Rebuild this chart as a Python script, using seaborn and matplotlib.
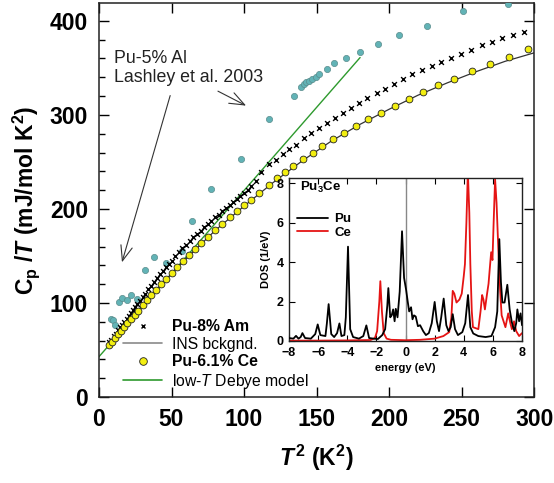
import numpy as np
import pandas as pd
import seaborn as sns
import matplotlib.pyplot as plt
from matplotlib.lines import Line2D
from matplotlib.ticker import MultipleLocator

# Pu-5% Al, Lashley et al. 2003
al_t2 = [8, 9.5, 11, 13.5, 16, 19, 22, 26, 31.5, 38, 46, 57, 64, 77, 97.6, 117, 134.7,
         139, 141.3, 143, 144.7, 146.6, 149.3, 152, 157, 162, 170, 180, 192.5, 207, 226, 251, 282]
al_cp = [83, 82, 77, 101, 105, 103, 108, 104, 135, 149, 142, 155, 187, 221, 253, 296, 320,
         330, 333, 335, 336, 338, 340, 344, 349, 355, 360, 367, 375, 385, 395, 410, 418]

# Pu-8% Am
am_t2 = [7, 8.5, 10, 11.5, 13, 14.5, 16, 17.5, 19, 20.5, 22, 23.5, 25, 26.5, 28, 30, 32, 34, 36, 38,
         40, 42, 44, 46, 48, 50, 52.5, 55, 57.5, 60, 62.5, 65, 67.5, 70, 72.5, 75, 77.5, 80, 82.5, 85,
         87.5, 90, 92.5, 95, 97.5, 100, 102.5, 105, 108, 112,
         117, 121.7, 126.6, 131, 136, 141, 146, 151.6, 157, 162.4, 168, 173.7, 179.4, 185, 191.4,
         197, 203.3, 209.5, 216, 222.4, 229.3, 236, 243, 249.8, 256.7, 263.8, 270.7, 278, 285.4, 293]
am_cp = [58, 61, 64.5, 67.5, 71, 74, 77, 80, 83, 86, 89.5, 92.5, 96, 99, 102, 106, 110, 114.5, 118.5, 122.5,
         126.5, 130.5, 134, 138, 141.5, 145, 149.5, 154, 158, 162, 166, 170, 173.5, 177, 180.5, 184, 187.5, 191, 194, 197.5,
         200.5, 204, 207, 210.5, 213.5, 217, 220, 224, 230, 239,
         248, 252.5, 258, 263.5, 268.5, 275, 281, 286.5, 291.5, 297, 302, 307, 312.5, 318, 323,
         328, 333, 338, 343.5, 348, 352, 356.5, 360.5, 364.5, 369, 374, 377.5, 381.5, 384.5, 388]

# Pu-6.1% Ce
ce_t2 = [7, 9, 11, 13, 15, 17, 19.5, 22, 24.5, 27, 30, 33, 36, 39.5, 43, 46.5, 50, 54, 58, 62, 66,
         70.5, 75, 80, 85, 90, 95, 100, 105, 110.5, 117, 122.4, 128, 134, 140.3, 147.2, 154, 161.2,
         169, 177, 185.4, 194.3, 203.8, 213.4, 223.3, 234, 245, 257.4, 269.5, 282.4, 296]
ce_cp = [55, 59, 63, 66.5, 70, 74, 78.5, 83, 87.5, 92, 97.5, 103, 108, 114, 120, 126, 132, 138.5, 145, 151, 157,
         164, 170.5, 177.5, 184, 191, 197.5, 204, 210, 217, 225.5, 233, 239, 246, 253, 260, 267, 274,
         281, 288.5, 295.5, 302.5, 309.5, 317, 324.5, 331.5, 338.5, 346.5, 354, 362, 370]

# INS background
ins_t2 = [7, 20, 40, 60, 80, 100, 120, 140, 160, 180, 200, 220, 240, 260, 280, 300]
ins_cp = [55, 80, 115, 147, 177, 203, 228, 251, 272, 290, 306, 321, 334, 346, 357, 366]

# low-T Debye model
deb_t2 = [0, 180]
deb_cp = [42.9, 361]

# inset: Pu3Ce density of states (energy eV, DOS 1/eV)
pu_dos = [(-8.0, 0.15), (-7.7, 0.12), (-7.52, 0.26), (-7.35, 0.12), (-7.2, 0.2), (-7.08, 0.4),
          (-6.9, 0.15), (-6.5, 0.12), (-6.2, 0.35), (-6.03, 0.84), (-5.85, 0.3), (-5.5, 0.25),
          (-5.4, 0.9), (-5.28, 1.87), (-5.1, 0.35), (-4.9, 0.2), (-4.7, 0.4), (-4.54, 0.89),
          (-4.4, 0.25), (-4.2, 0.3), (-4.1, 1.2), (-3.95, 4.78), (-3.8, 0.6), (-3.6, 0.2),
          (-3.2, 0.12), (-2.9, 0.25), (-2.69, 0.79), (-2.5, 0.15), (-2.2, 0.12), (-1.9, 0.1),
          (-1.6, 0.3), (-1.4, 0.6), (-1.25, 1.8), (-1.18, 2.68), (-1.05, 1.2), (-0.95, 1.3),
          (-0.85, 1.6), (-0.75, 1.0), (-0.67, 1.63), (-0.55, 1.2), (-0.4, 2.5), (-0.24, 5.56),
          (-0.1, 3.2), (0.04, 2.59), (0.15, 2.0), (0.25, 1.5), (0.38, 1.71), (0.48, 1.1),
          (0.58, 1.3), (0.7, 1.24), (0.85, 0.75), (1.0, 0.8), (1.22, 0.49), (1.4, 0.3),
          (1.6, 0.4), (1.8, 0.9), (2.0, 1.98), (2.15, 1.0), (2.3, 0.5), (2.45, 1.2),
          (2.62, 2.15), (2.8, 0.8), (2.95, 0.5), (3.1, 0.7), (3.24, 1.36), (3.4, 0.6),
          (3.6, 0.3), (3.9, 0.45), (4.1, 0.9), (4.29, 2.33), (4.45, 0.7), (4.65, 0.38),
          (5.0, 0.25), (5.5, 0.2), (5.9, 0.25), (6.15, 0.7), (6.3, 1.5), (6.44, 5.16),
          (6.55, 3.0), (6.65, 1.95), (6.8, 1.95), (6.99, 2.85), (7.15, 1.6), (7.3, 0.95),
          (7.47, 0.5), (7.6, 0.9), (7.68, 1.6), (7.8, 1.0), (7.9, 1.4), (8.0, 0.8)]
ce_dos = [(-8, 0.02), (-6, 0.02), (-4, 0.03), (-2.4, 0.05), (-2.1, 0.15), (-1.95, 0.5),
          (-1.8, 2.0), (-1.73, 3.03), (-1.62, 1.5), (-1.5, 0.4), (-1.3, 0.12), (-1.0, 0.06),
          (0, 0.04), (1.0, 0.06), (2.0, 0.12), (2.6, 0.25), (3.0, 0.45), (3.15, 1.2),
          (3.24, 2.54), (3.35, 2.4), (3.5, 1.95), (3.7, 2.1), (3.86, 2.4), (4.0, 3.3),
          (4.08, 3.9), (4.18, 6.0), (4.28, 8.6), (4.38, 6.5), (4.45, 3.9), (4.55, 1.5),
          (4.63, 0.7), (5.0, 0.6), (5.15, 1.5), (5.26, 2.33), (5.35, 2.1), (5.45, 1.6),
          (5.6, 2.4), (5.7, 2.9), (5.8, 3.8), (5.88, 4.5), (5.97, 4.1), (6.05, 6.0),
          (6.15, 8.2), (6.25, 7.0), (6.37, 4.7), (6.5, 2.5), (6.6, 1.3), (6.86, 0.7),
          (7.05, 1.4), (7.2, 0.9), (7.3, 0.6), (7.45, 1.0), (7.6, 0.5), (7.8, 0.25), (8.0, 0.4)]

sns.set_theme(style="ticks")
plt.rcParams['font.family'] = ['Liberation Sans', 'DejaVu Sans']
plt.rcParams['mathtext.fontset'] = 'custom'
plt.rcParams['mathtext.rm'] = 'Liberation Sans:bold'
plt.rcParams['mathtext.it'] = 'Liberation Sans:italic'
plt.rcParams['mathtext.bf'] = 'Liberation Sans:bold'
plt.rcParams['mathtext.bfit'] = 'Liberation Sans:bold:italic'
for key in ('text.color', 'axes.labelcolor', 'xtick.color', 'ytick.color'):
    plt.rcParams[key] = 'black'

al = pd.DataFrame({"T2": al_t2, "Cp": al_cp})
am = pd.DataFrame({"T2": am_t2, "Cp": am_cp})
ce = pd.DataFrame({"T2": ce_t2, "Cp": ce_cp})
ins = pd.DataFrame({"T2": ins_t2, "Cp": ins_cp})
deb = pd.DataFrame({"T2": deb_t2, "Cp": deb_cp})

teal = '#62b3b6'
green = '#2e9a2e'
yellow = '#f2ee10'

fig = plt.figure(figsize=(5.54, 4.83), dpi=100)
ax = fig.add_axes([0.1787, 0.178, 0.7855, 0.8158])

sns.scatterplot(data=al, x="T2", y="Cp", ax=ax, color=teal, edgecolor='#5a8c8c',
                linewidth=0.5, s=20, zorder=3)
sns.lineplot(data=deb, x="T2", y="Cp", ax=ax, color=green, lw=1.0, sort=False,
             estimator=None, zorder=2)
sns.lineplot(data=ins, x="T2", y="Cp", ax=ax, color='#333333', lw=0.9, sort=False,
             estimator=None, zorder=2)
sns.scatterplot(data=am, x="T2", y="Cp", ax=ax, marker='x', color='black', s=12,
                linewidth=1.0, zorder=4)
sns.scatterplot(data=ce, x="T2", y="Cp", ax=ax, color=yellow, edgecolor='#222222',
                linewidth=0.6, s=24, zorder=5)

ax.set_xlim(0, 300)
ax.set_ylim(0, 419)
ax.xaxis.set_major_locator(MultipleLocator(50))
ax.yaxis.set_major_locator(MultipleLocator(100))
ax.yaxis.set_minor_locator(MultipleLocator(20))
ax.tick_params(which='both', direction='in', top=True, right=True, labelsize=16.5, width=1.0)
ax.tick_params(which='major', length=7.5)
ax.tick_params(which='minor', length=4.5, top=False, right=False)
ax.tick_params(axis='x', pad=8)
ax.tick_params(axis='y', pad=8)
for lab in ax.get_xticklabels() + ax.get_yticklabels():
    lab.set_fontweight('bold')
for sp in ax.spines.values():
    sp.set_linewidth(1.1)
    sp.set_color('#222222')

ax.set_xlabel(r"$\mathbfit{T}^{\,\mathbf{2}}$ (K$^{\mathbf{2}}$)", fontsize=16.5, fontweight='bold')
ax.set_ylabel(r"C$_{\mathbf{p}}$ /$\mathbfit{T}$ (mJ/mol K$^{\mathbf{2}}$)", fontsize=16.5,
              fontweight='bold')
ax.yaxis.set_label_coords(-0.13, 0.5)
ax.xaxis.set_label_coords(0.5, -0.115)

ax.text(10, 369, "Pu-5% Al\nLashley et al. 2003", fontsize=12.8, va='top', ha='left',
        linespacing=1.15, color='#222222')
ax.annotate("", xy=(15.3, 140.4), xytext=(49.6, 323.4),
            arrowprops=dict(arrowstyle='->,head_length=0.9,head_width=0.35', lw=0.8, color='#333333'))
ax.annotate("", xy=(103.1, 308.5), xytext=(80.3, 326.6),
            arrowprops=dict(arrowstyle='->,head_length=0.9,head_width=0.35', lw=0.8, color='#333333'))

handles = [
    Line2D([], [], ls='none', marker='x', color='black', markersize=3.5, mew=1.0),
    Line2D([], [], color='#8a8a8a', lw=1.2),
    Line2D([], [], ls='none', marker='o', markerfacecolor=yellow, markeredgecolor='#222222',
           markersize=5.5, mew=0.6),
    Line2D([], [], color=green, lw=1.2),
]
labels = ["Pu-8% Am", "INS bckgnd.", "Pu-6.1% Ce", r"low-$T$ Debye model"]
leg = ax.legend(handles, labels, loc='upper left', bbox_to_anchor=(0.055, 0.198), frameon=False,
                fontsize=11.3, handlelength=2.5, handletextpad=0.6, labelspacing=0.16,
                borderpad=0, borderaxespad=0)
for i, t in enumerate(leg.get_texts()):
    t.set_fontweight('bold' if i in (0, 2) else 'normal')

# inset
ins_ax = fig.add_axes([0.5217, 0.294, 0.4206, 0.3375])
ins_ax.set_facecolor('white')
pu = pd.DataFrame(pu_dos, columns=["E", "DOS"])
cd = pd.DataFrame(ce_dos, columns=["E", "DOS"])
ins_ax.axvline(0, color='#888888', lw=1.0, zorder=1)
sns.lineplot(data=pu, x="E", y="DOS", ax=ins_ax, color='black', lw=1.3, sort=False,
             estimator=None, label="Pu", zorder=3)
sns.lineplot(data=cd, x="E", y="DOS", ax=ins_ax, color='#e51414', lw=1.3, sort=False,
             estimator=None, label="Ce", zorder=2)
ins_ax.set_xlim(-8, 8)
ins_ax.set_ylim(0, 8.26)
ins_ax.xaxis.set_major_locator(MultipleLocator(2))
ins_ax.yaxis.set_major_locator(MultipleLocator(2))
ins_ax.tick_params(direction='in', top=True, right=True, labelsize=9, length=4, width=0.8, pad=4)
for lab in ins_ax.get_xticklabels() + ins_ax.get_yticklabels():
    lab.set_fontweight('bold')
for sp in ins_ax.spines.values():
    sp.set_linewidth(1.0)
    sp.set_color('#222222')
ins_ax.set_xlabel("energy (eV)", fontsize=8, fontweight='bold', labelpad=3)
ins_ax.set_ylabel("DOS (1/eV)", fontsize=8, fontweight='bold', labelpad=4)
ins_ax.text(0.047, 0.94, r"Pu$_{\mathbf{3}}$Ce", transform=ins_ax.transAxes, fontsize=9.5,
            fontweight='bold', ha='left', va='center')
ileg = ins_ax.legend(loc='upper left', bbox_to_anchor=(0.035, 0.785), frameon=False, fontsize=9.5,
                     handlelength=2.3, handletextpad=0.5, labelspacing=0.1, borderpad=0,
                     borderaxespad=0)
for t in ileg.get_texts():
    t.set_fontweight('bold')

fig.savefig("out.png", dpi=100)
